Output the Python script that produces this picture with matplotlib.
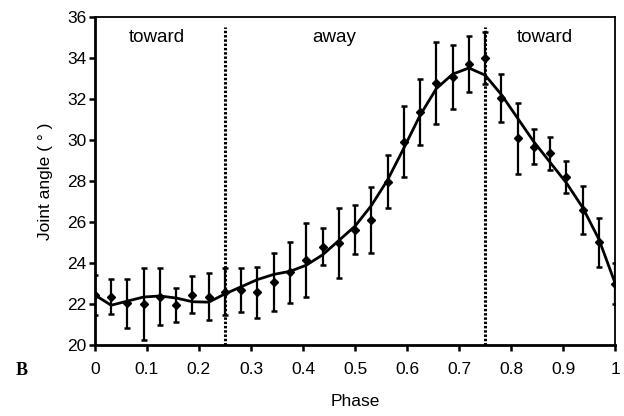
import numpy as np
import matplotlib
matplotlib.use("Agg")
import matplotlib.pyplot as plt

plt.rcParams['font.family'] = ['Liberation Sans', 'DejaVu Sans']

# phase samples every 1/32 of the cycle
phase = [i / 32 for i in range(33)]
angle_mean = [22.45, 22.37, 22.05, 22.01, 22.37, 21.96, 22.45, 22.37, 22.61,
              22.69, 22.58, 23.08, 23.55, 24.15, 24.80, 24.97, 25.62, 26.10,
              27.97, 29.91, 31.37, 32.76, 33.05, 33.70, 33.97, 32.03, 30.08,
              29.67, 29.35, 28.21, 26.59, 25.02, 22.99]
angle_err = [0.97, 0.87, 1.20, 1.75, 1.38, 0.85, 0.90, 1.13, 1.15,
             1.07, 1.23, 1.42, 1.47, 1.82, 0.90, 1.70, 1.20, 1.60,
             1.30, 1.72, 1.60, 2.00, 1.57, 1.35, 1.27, 1.17, 1.72,
             0.85, 0.80, 0.78, 1.18, 1.20, 1.00]
# fitted curve read at the same phases
fit_curve = [22.45, 21.95, 22.15, 22.35, 22.40, 22.30, 22.12, 22.10, 22.50,
             22.85, 23.20, 23.45, 23.60, 23.90, 24.40, 25.10, 25.80, 26.80,
             28.05, 29.60, 31.20, 32.50, 33.20, 33.50, 33.15, 32.20, 31.05,
             29.90, 28.90, 27.90, 26.70, 25.15, 23.00]

boundaries = [0.25, 0.75]
segments = [(0.12, "toward"), (0.46, "away"), (0.865, "toward")]

fig = plt.figure(figsize=(6.24, 4.16), dpi=100)
ax = fig.add_axes([0.152, 0.17, 0.834, 0.79])

ax.plot(phase, fit_curve, color='black', lw=2.0, zorder=3)
ax.errorbar(phase, angle_mean, yerr=angle_err, fmt='D', ms=4, color='black',
            ecolor='black', elinewidth=1.6, capsize=2.5, capthick=1.8, zorder=4)

for b in boundaries:
    ax.vlines(b, 20, 35.5, colors='black', lw=2.2, linestyles=(0, (0.8, 0.6)), zorder=2)

for xpos, label in segments:
    ax.text(xpos, 35.0, label, ha='center', va='center', fontsize=13.5)

ax.set_xlim(0, 1)
ax.set_ylim(20, 36)
ax.set_xticks(np.arange(0, 1.01, 0.1))
ax.set_xticklabels(['0', '0.1', '0.2', '0.3', '0.4', '0.5', '0.6', '0.7', '0.8', '0.9', '1'])
ax.set_yticks(range(20, 37, 2))
ax.tick_params(axis='both', direction='out', length=4, width=1.8, labelsize=12.5)
ax.tick_params(axis='x', pad=8)
ax.tick_params(axis='y', pad=2)
for sp in ax.spines.values():
    sp.set_linewidth(1.3)
ax.spines['left'].set_linewidth(2)
ax.spines['bottom'].set_linewidth(2)

ax.set_xlabel('Phase', fontsize=12.5, labelpad=12)
ax.set_ylabel('Joint angle ( ° )', fontsize=12.5, labelpad=10)

fig.text(0.035, 0.11, 'B', fontsize=13, fontweight='bold',
         family='Liberation Serif', ha='center', va='center')

fig.savefig('out.png', dpi=100)
